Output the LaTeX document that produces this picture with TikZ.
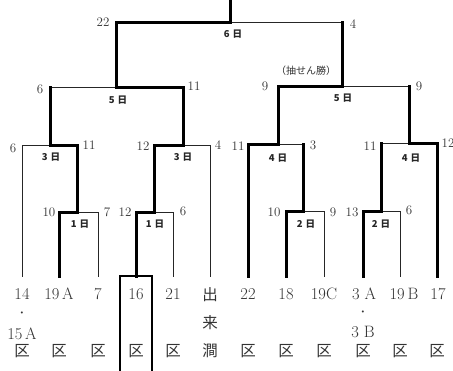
\documentclass[tikz,border=0pt]{standalone}
\usepackage{fontspec}
\newfontfamily\jp{Noto Sans CJK JP}
\newcommand{\dd}[1]{#1\hspace{3pt}日}
\begin{document}
\begin{tikzpicture}[x=1pt,y=-1pt,
  thinln/.style={line width=1pt, line cap=rect, black!85},
  win/.style={line width=3pt, line cap=rect, black},
  score/.style={font=\fontsize{13}{13}\selectfont, text=black!80, inner sep=0pt},
  day/.style={font=\jp\bfseries\fontsize{9.5}{10}\selectfont, text=black!85, inner sep=0pt},
  leaf/.style={font=\fontsize{16.5}{17}\selectfont, text=black!80, inner sep=0pt},
  dotlbl/.style={font=\fontsize{7}{7}\selectfont, text=black!80, inner sep=0pt},
  jleaf/.style={font=\jp\fontsize{15.5}{16}\selectfont, text=black!80, inner sep=0pt}]
\fill[white] (0,0) rectangle (453,370);
\useasboundingbox (0,0) rectangle (453,370);
% leaves
\coordinate (l1) at (22,276);
\coordinate (l2) at (59,276);
\coordinate (l3) at (98,276);
\coordinate (l4) at (136,276);
\coordinate (l5) at (173,276);
\coordinate (l6) at (210,276);
\coordinate (r1) at (248,276);
\coordinate (r2) at (286,276);
\coordinate (r3) at (324,276);
\coordinate (r4) at (363,276);
\coordinate (r5) at (400,276);
\coordinate (r6) at (437,276);
% match points
\coordinate (mA) at (77,212);
\coordinate (mB) at (154,212);
\coordinate (mC) at (50,145);
\coordinate (mD) at (183,145);
\coordinate (mE) at (116,87);
\coordinate (mF) at (303,211);
\coordinate (mG) at (381,211);
\coordinate (mH) at (278,144);
\coordinate (mI) at (409,143);
\coordinate (mJ) at (342,86);
\coordinate (mK) at (230,22);
\coordinate (top) at (230,0);
% A
\draw[thinln] (l3) |- (mA);
\draw[win] (l2) |- (mA);
% B
\draw[thinln] (l5) |- (mB);
\draw[win] (l4) |- (mB);
% C
\draw[thinln] (l1) |- (mC);
\draw[win] (mA) |- (mC);
% D
\draw[thinln] (l6) |- (mD);
\draw[win] (mB) |- (mD);
% E
\draw[thinln] (mC |- mE) -- (mE);
\draw[win] (mC) -- (mC |- mE);
\draw[win] (mD) |- (mE);
% F
\draw[thinln] (r3) |- (mF);
\draw[win] (r2) |- (mF);
% G
\draw[thinln] (r5) |- (mG);
\draw[win] (r4) |- (mG);
% H
\draw[thinln] (mF |- mH) -- (mH);
\draw[win] (r1) |- (mH);
\draw[win] (mF) -- (mF |- mH);
% I
\draw[thinln] (mG |- mI) -- (mI);
\draw[win] (mG) -- (mG |- mI);
\draw[win] (r6) |- (mI);
% J
\draw[thinln] (mI |- mJ) -- (mJ);
\draw[win] (mH) |- (mJ);
\draw[win] (mI) -- (mI |- mJ);
% K
\draw[thinln] (mJ |- mK) -- (mK);
\draw[win] (mE) |- (mK);
\draw[win] (mJ) -- (mJ |- mK);
\draw[win] (mK) -- (top);
% champion box
\coordinate (bxl) at (120,372);
\coordinate (bxr) at (152,372);
\draw[line width=1.6pt, black] (bxl) |- (l4) -| (bxr);
% scores and days
\node[score] (sK1) at (103,22) {22};
\node[score] (sK2) at (353,24) {4};
\node[day] (dK) at (233,34) {\dd{6}};
\node[score] (sE1) at (40,89) {6};
\node[score] (sE2) at (194,86) {11};
\node[day] (dE) at (118,100) {\dd{5}};
\node[score] (sC1) at (13,148) {6};
\node[score] (sC2) at (89,145) {11};
\node[day] (dC) at (51,157) {\dd{3}};
\node[score] (sA1) at (49,212) {10};
\node[score] (sA2) at (107,212) {7};
\node[day] (dA) at (80,224) {\dd{1}};
\node[score] (sD1) at (143,146) {12};
\node[score] (sD2) at (218,145) {4};
\node[day] (dD) at (183,157) {\dd{3}};
\node[score] (sB1) at (125,212) {12};
\node[score] (sB2) at (183,211) {6};
\node[day] (dB) at (155,224) {\dd{1}};
\node[score] (sJ1) at (265,86) {9};
\node[score] (sJ2) at (419,86) {9};
\node[day] (dJ) at (343,98) {\dd{5}};
\node[font=\jp\fontsize{10}{10}\selectfont, text=black!80, inner sep=0pt] (lot) at (306,71) {（抽せん勝）};
\node[score] (sH1) at (238,146) {11};
\node[score] (sH2) at (313,145) {3};
\node[day] (dH) at (278,158) {\dd{4}};
\node[score] (sF1) at (274,212) {10};
\node[score] (sF2) at (333,212) {9};
\node[day] (dF) at (306,224) {\dd{2}};
\node[score] (sI1) at (370,146) {11};
\node[score] (sI2) at (448,143) {12};
\node[day] (dI) at (411,158) {\dd{4}};
\node[score] (sG1) at (352,212) {13};
\node[score] (sG2) at (409,210) {6};
\node[day] (dG) at (381,224) {\dd{2}};
% leaf labels
\node[leaf] (t1) at (22,294) {14};
\node[dotlbl] (t1d) at (22,313) {\textbullet};
\node[leaf] (t1b) at (22,334) {15\,A};
\node[leaf] (t2) at (59,294) {19\,A};
\node[leaf] (t3) at (98,294) {7};
\node[leaf] (t4) at (136,294) {16};
\node[leaf] (t5) at (173,294) {21};
\node[jleaf] (t6) at (210,295) {出};
\node[jleaf] (t6b) at (210,323) {来};
\node[jleaf] (t6c) at (210,351) {澗};
\node[leaf] (u1) at (248,294) {22};
\node[leaf] (u2) at (286,294) {18};
\node[leaf] (u3) at (324,294) {19C};
\node[leaf] (u4) at (364,294) {3\ A};
\node[dotlbl] (u4d) at (363,312) {\textbullet};
\node[leaf] (u4b) at (363,332) {3\ B};
\node[leaf] (u5) at (404,294) {19\,B};
\node[leaf] (u6) at (438,294) {17};
\foreach \x/\n in {22/k1,59/k2,98/k3,136/k4,173/k5,248/k7,286/k8,324/k9,363/k10,400/k11,437/k12}
  \node[jleaf] (\n) at (\x,351) {区};
\end{tikzpicture}
\end{document}
